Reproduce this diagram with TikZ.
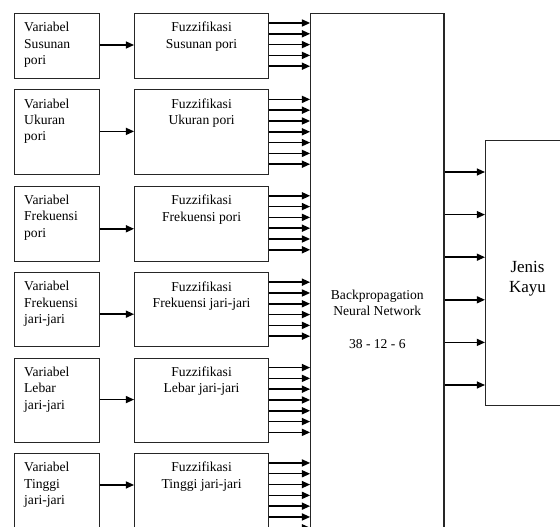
\documentclass[tikz,border=0pt]{standalone}
\usepackage{fontspec}
\setmainfont{Liberation Serif}
\usepackage{tikz}
\usetikzlibrary{arrows.meta, positioning, calc}
\tikzset{
  blockbox/.style={
    rectangle,
    draw=black!85,
    line width=0.9pt,
    fill=white,
    inner sep=0pt
  },
  varbox/.style={
    blockbox,
    minimum width=2.55cm
  },
  fuzzbox/.style={
    blockbox,
    minimum width=4.02cm
  },
  vartext/.style={
    anchor=north west,
    align=left,
    inner sep=0pt,
    xshift=8.5pt,
    yshift=-7.7pt,
    font=\fontsize{11.6}{14}\selectfont
  },
  fuzztext/.style={
    anchor=north,
    align=center,
    inner sep=0pt,
    yshift=-7.7pt,
    font=\fontsize{11.6}{14}\selectfont
  },
  nnbox/.style={
    blockbox,
    minimum width=4.0cm,
    minimum height=18.36cm,
    align=center,
    font=\fontsize{11.6}{14}\selectfont
  },
  outbox/.style={
    blockbox,
    minimum width=2.52cm,
    minimum height=7.95cm
  },
  outtext/.style={
    align=center,
    inner sep=0pt,
    yshift=-5pt,
    font=\fontsize{14.5}{17}\selectfont
  },
  flowarrow/.style={-{Triangle[length=7pt,width=6pt]}, line width=1.25pt, draw=black}
}
\begin{document}
\begin{tikzpicture}[x=0.03cm, y=-0.03cm, node distance=0.31cm and 1.02cm]
  \useasboundingbox (0,0) rectangle (560,526);
  \clip (0,0) rectangle (560,526);

  % input variables
  \node[varbox, minimum height=1.95cm, anchor=north west] (var1) at (14,13)
    [label={[vartext]north west:{Variabel\\Susunan\\pori}}] {};
  \node[varbox, minimum height=2.55cm, below=of var1] (var2)
    [label={[vartext]north west:{Variabel\\Ukuran\\pori}}] {};
  \node[varbox, minimum height=2.25cm, below=of var2] (var3)
    [label={[vartext]north west:{Variabel\\Frekuensi\\pori}}] {};
  \node[varbox, minimum height=2.22cm, below=of var3] (var4)
    [label={[vartext]north west:{Variabel\\Frekuensi\\jari-jari}}] {};
  \node[varbox, minimum height=2.52cm, below=of var4] (var5)
    [label={[vartext]north west:{Variabel\\Lebar\\jari-jari}}] {};
  \node[varbox, minimum height=3.0cm, below=of var5] (var6)
    [label={[vartext]north west:{Variabel\\Tinggi\\jari-jari}}] {};

  % fuzzification blocks
  \node[fuzzbox, minimum height=1.95cm, right=of var1] (fuzz1)
    [label={[fuzztext]north:{Fuzzifikasi\\Susunan pori}}] {};
  \node[fuzzbox, minimum height=2.55cm, right=of var2] (fuzz2)
    [label={[fuzztext]north:{Fuzzifikasi\\Ukuran pori}}] {};
  \node[fuzzbox, minimum height=2.25cm, right=of var3] (fuzz3)
    [label={[fuzztext]north:{Fuzzifikasi\\Frekuensi pori}}] {};
  \node[fuzzbox, minimum height=2.22cm, right=of var4] (fuzz4)
    [label={[fuzztext]north:{Fuzzifikasi\\Frekuensi jari-jari}}] {};
  \node[fuzzbox, minimum height=2.52cm, right=of var5] (fuzz5)
    [label={[fuzztext]north:{Fuzzifikasi\\Lebar jari-jari}}] {};
  \node[fuzzbox, minimum height=3.0cm, right=of var6] (fuzz6)
    [label={[fuzztext]north:{Fuzzifikasi\\Tinggi jari-jari}}] {};

  % network and output
  \node[nnbox, right=1.23cm of fuzz1.north east, anchor=north west] (nn)
    {Backpropagation\\Neural Network\\[14pt]38 - 12 - 6};
  \node[outbox, anchor=north west] (jenis) at (485,140)
    [label={[outtext]center:{Jenis\\Kayu}}] {};

  % variable -> fuzzification
  \foreach \g/\a in {1/32,2/42,3/43,4/42,5/42,6/32} {
    \coordinate (v\g) at ($(var\g.north east)+(0,\a)$);
    \draw[flowarrow] (v\g) -- (v\g -| fuzz\g.west);
  }

  % fuzzification -> network (38 inputs)
  \foreach \g/\n in {1/5,2/7,3/6,4/6,5/7,6/7} {
    \foreach \k in {1,...,\n} {
      \coordinate (f\g k\k) at ($(fuzz\g.north east)+(0,{10+(\k-1)*10.8})$);
      \draw[flowarrow] (f\g k\k) -- (f\g k\k -| nn.west);
    }
  }

  % network -> output (6 classes)
  \foreach \k in {0,...,5} {
    \coordinate (o\k) at ($(jenis.north west)+(0,{32+\k*42.6})$);
    \draw[flowarrow] (o\k -| nn.east) -- (o\k);
  }
\end{tikzpicture}
\end{document}
